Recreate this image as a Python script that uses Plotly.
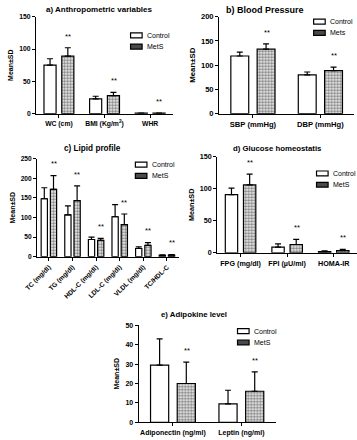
import plotly.graph_objects as go

# ---------------- data ----------------
a_cats = ["WC (cm)", "BMI (Kg/m<sup>2</sup>)", "WHR"]
a_ctrl = [75, 23, 0.9]
a_ctrl_sd = [10, 4, 0.05]
a_mets = [89, 28, 0.95]
a_mets_sd = [13, 5, 0.06]

b_cats = ["SBP (mmHg)", "DBP (mmHg)"]
b_ctrl = [119, 80]
b_ctrl_sd = [8, 6]
b_mets = [133, 89]
b_mets_sd = [11, 7]

c_cats = ["TC (mg/dl)", "TG (mg/dl)", "HDL-C (mg/dl)", "LDL-C (mg/dl)", "VLDL (mg/dl)", "TC/HDL-C"]
c_ctrl = [148, 107, 44, 102, 21, 3.5]
c_ctrl_sd = [28, 23, 6, 31, 4, 1]
c_mets = [172, 143, 42, 82, 29, 4.2]
c_mets_sd = [35, 38, 5, 27, 7, 1.2]

d_cats = ["FPG (mg/dl)", "FPI (µU/ml)", "HOMA-IR"]
d_ctrl = [91, 9, 2]
d_ctrl_sd = [10, 5, 1]
d_mets = [106, 13, 3.5]
d_mets_sd = [17, 8, 2]

e_cats = ["Adiponectin (ng/ml)", "Leptin (ng/ml)"]
e_ctrl = [29.5, 9.5]
e_ctrl_sd = [13.5, 7]
e_mets = [20, 16]
e_mets_sd = [11, 10]

titles = ["a) Anthropometric variables", "b) Blood Pressure", "c) Lipid profile",
          "d) Glucose homeostatis", "e) Adipokine level"]
mets_names = ["MetS", "Mets", "MetS", "MetS", "MetS"]
y_max = [150, 200, 250, 150, 50]
y_dtick = [50, 50, 50, 50, 10]

# ---------------- layout geometry / styling ----------------
W, H = 357, 440
FONT = "Liberation Sans, Arial, sans-serif"
BARGAP = 0.22
GROUPGAP = 0.32

# pixel boxes: (x0, x1, y_top, y_bottom)
boxes = [
    (24, 166, 13, 112),
    (214, 354, 13, 112),
    (25, 172, 158, 258),
    (212, 357, 156, 254),
    (130.5, 272.5, 328, 427),
]
title_pos = [(90, 6), (262, 6), (82, 148), (275, 148), (188, 317)]
title_size = [8.0, 9.0, 8.2, 7.8, 7.8]
tick_size = [6.8, 7.6, 6.6, 7.2, 7.0]
ytitle_size = [7.0, 7.8, 7.0, 7.2, 7.0]
# legend: (box left x, first row center y)
legend_pos = [(122, 32), (312, 18), (127, 164), (315, 173), (233, 334)]
LEG_DY = 11.5
BOX_W, BOX_H = 12, 5

panels = [
    (a_cats, a_ctrl, a_ctrl_sd, a_mets, a_mets_sd),
    (b_cats, b_ctrl, b_ctrl_sd, b_mets, b_mets_sd),
    (c_cats, c_ctrl, c_ctrl_sd, c_mets, c_mets_sd),
    (d_cats, d_ctrl, d_ctrl_sd, d_mets, d_mets_sd),
    (e_cats, e_ctrl, e_ctrl_sd, e_mets, e_mets_sd),
]

fig = go.Figure()
annotations = []
shapes = []
layout = {}

for i, (cats, ctrl, ctrl_sd, mets, mets_sd) in enumerate(panels):
    n = i + 1
    xa = "x" if n == 1 else f"x{n}"
    ya = "y" if n == 1 else f"y{n}"
    x0, x1, yt, yb = boxes[i]

    fig.add_trace(go.Bar(
        x=cats, y=ctrl, name="Control", xaxis=xa, yaxis=ya, showlegend=False,
        marker=dict(color="white", line=dict(color="black", width=1.2)),
        error_y=dict(type="data", array=ctrl_sd, arrayminus=[0] * len(ctrl_sd),
                     symmetric=False, color="black", thickness=1.2, width=3),
    ))
    fig.add_trace(go.Bar(
        x=cats, y=mets, name=mets_names[i], xaxis=xa, yaxis=ya, showlegend=False,
        marker=dict(color="white", line=dict(color="black", width=1.2),
                    pattern=dict(shape=".", size=3, solidity=0.55,
                                 fgcolor="black", bgcolor="white")),
        error_y=dict(type="data", array=mets_sd, arrayminus=[0] * len(mets_sd),
                     symmetric=False, color="black", thickness=1.2, width=3),
    ))

    layout[("xaxis" if n == 1 else f"xaxis{n}")] = dict(
        domain=[x0 / W, x1 / W], anchor=ya, type="category",
        showline=True, linecolor="black", linewidth=1.2,
        ticks="outside", ticklen=3, tickcolor="black", tickwidth=1.2,
        showgrid=False, zeroline=False,
        tickangle=-45 if n == 3 else 0,
        tickfont=dict(family=FONT, size=tick_size[i], color="black", weight="bold"),
        range=[-0.5, len(cats) - 0.5],
    )
    layout[("yaxis" if n == 1 else f"yaxis{n}")] = dict(
        domain=[1 - yb / H, 1 - yt / H], anchor=xa,
        range=[0, y_max[i]], dtick=y_dtick[i],
        showline=True, linecolor="black", linewidth=1.2,
        ticks="outside", ticklen=3, tickcolor="black", tickwidth=1.2,
        showgrid=False, zeroline=False,
        tickfont=dict(family=FONT, size=tick_size[i], color="black", weight="bold"),
        title=dict(text="Mean±SD", standoff=4,
                   font=dict(family=FONT, size=ytitle_size[i], color="black", weight="bold")),
    )

    # title
    annotations.append(dict(
        text=titles[i], xref="paper", yref="paper",
        x=title_pos[i][0] / W, y=1 - title_pos[i][1] / H,
        showarrow=False, xanchor="center", yanchor="middle",
        font=dict(family=FONT, size=title_size[i], color="black", weight="bold"),
    ))

    # legend (drawn manually, compact like the reference)
    lx, ly = legend_pos[i]
    for k, (name, fill) in enumerate([("Control", "white"), (mets_names[i], "#4a4a4a")]):
        cy = ly + k * LEG_DY
        shapes.append(dict(
            type="rect", xref="paper", yref="paper",
            x0=lx / W, x1=(lx + BOX_W) / W,
            y0=1 - (cy + BOX_H / 2) / H, y1=1 - (cy - BOX_H / 2) / H,
            line=dict(color="black", width=1.2), fillcolor=fill,
        ))
        annotations.append(dict(
            text=name, xref="paper", yref="paper",
            x=(lx + BOX_W + 3) / W, y=1 - cy / H,
            showarrow=False, xanchor="left", yanchor="middle",
            font=dict(family=FONT, size=7, color="black"),
        ))

    # significance markers above MetS bars
    cat_px = (x1 - x0) / len(cats)
    shift = (1 - BARGAP) * cat_px / 4
    for c, m, s in zip(cats, mets, mets_sd):
        annotations.append(dict(
            text="**", xref=xa, yref=ya, x=c, y=m + s + 0.12 * y_max[i],
            xshift=shift, showarrow=False, xanchor="center", yanchor="middle",
            font=dict(family=FONT, size=7.5, color="black"),
        ))

fig.update_layout(
    width=W, height=H, margin=dict(l=0, r=0, t=0, b=0),
    paper_bgcolor="white", plot_bgcolor="white", showlegend=False,
    barmode="group", bargap=BARGAP, bargroupgap=GROUPGAP,
    annotations=annotations, shapes=shapes, **layout,
)

fig.write_html(
    "out.html",
    config={"displayModeBar": False},
    post_script="document.body.style.margin='0';document.body.style.overflow='hidden';",
)
